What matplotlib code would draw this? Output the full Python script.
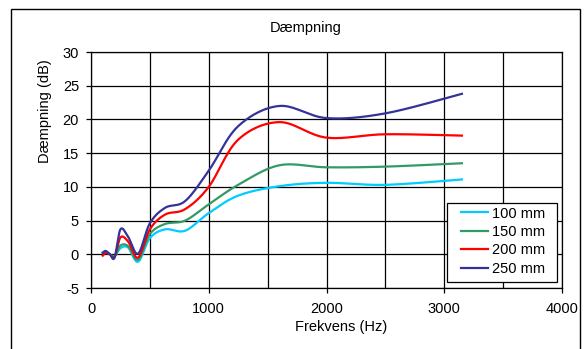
import numpy as np
import matplotlib
matplotlib.use("Agg")
import matplotlib.pyplot as plt
from matplotlib.patches import Rectangle
from matplotlib.ticker import FuncFormatter

plt.rcParams['font.family'] = ['Liberation Sans', 'DejaVu Sans']

freqs = [100, 125, 160, 200, 250, 315, 400, 500, 630, 800, 1000, 1250, 1600, 2000, 2500, 3150]
d100 = [0.3, 0.4, 0.0, -0.3, 0.9, 1.0, -1.1, 2.4, 3.7, 3.5, 6.1, 8.7, 10.1, 10.6, 10.3, 11.1]
d150 = [0.2, 0.4, 0.0, -0.3, 1.3, 1.2, -0.8, 3.0, 4.5, 5.0, 7.4, 10.3, 13.2, 12.9, 13.0, 13.5]
d200 = [-0.2, 0.2, 0.0, -0.4, 2.5, 1.9, -0.5, 3.7, 5.9, 6.7, 10.0, 17.0, 19.6, 17.3, 17.8, 17.6]
d250 = [0.2, 0.5, 0.0, -0.5, 3.7, 2.6, 0.1, 4.6, 6.9, 7.9, 12.4, 19.0, 22.0, 20.2, 20.9, 23.8]
labels = ['100 mm', '150 mm', '200 mm', '250 mm']
colors = ['#00CCFF', '#339966', '#FF0000', '#333399']

xlim = (0, 4000)
ylim = (-5, 30)
FS = 10.5


def smooth(x, y, sx, sy, n=30):
    # Excel-like smoothed line: Catmull-Rom Bezier in screen space
    P = np.column_stack([np.asarray(x, float) * sx, np.asarray(y, float) * sy])
    P = np.vstack([P[0], P, P[-1]])
    out = []
    t = np.linspace(0, 1, n)[:, None]
    for i in range(1, len(P) - 2):
        p0, p1, p2, p3 = P[i - 1], P[i], P[i + 1], P[i + 2]
        c1 = p1 + (p2 - p0) / 6.0
        c2 = p2 - (p3 - p1) / 6.0
        seg = ((1 - t) ** 3) * p1 + 3 * ((1 - t) ** 2) * t * c1 + 3 * (1 - t) * t ** 2 * c2 + t ** 3 * p2
        out.append(seg if i == 1 else seg[1:])
    out = np.vstack(out)
    return out[:, 0] / sx, out[:, 1] / sy


W, H = 588, 349
fig = plt.figure(figsize=(W / 100, H / 100), dpi=100)
ax = fig.add_axes([91 / W, 1 - 288 / H, 471 / W, 236 / H])
ax.set_xlim(*xlim)
ax.set_ylim(*ylim)

sx = 471 / (xlim[1] - xlim[0])
sy = 236 / (ylim[1] - ylim[0])
for data, lab, col in zip([d100, d150, d200, d250], labels, colors):
    xs, ys = smooth(freqs, data, sx, sy)
    ax.plot(xs, ys, color=col, lw=1.6, label=lab, zorder=3)

ax.set_xticks(np.arange(0, 4001, 1000))
ax.set_xticks(np.arange(0, 4001, 500), minor=True)
ax.set_yticks(np.arange(-5, 31, 5))
fmt = FuncFormatter(lambda v, p: str(int(round(v))))
ax.xaxis.set_major_formatter(fmt)
ax.yaxis.set_major_formatter(fmt)
ax.grid(True, which='major', color='black', lw=0.9)
ax.grid(True, which='minor', axis='x', color='black', lw=0.9)
ax.tick_params(which='minor', length=0)
ax.tick_params(which='major', direction='out', length=3.6, width=0.9, labelsize=FS)
ax.tick_params(axis='x', pad=6.5)
ax.tick_params(axis='y', pad=5)
for s in ax.spines.values():
    s.set_linewidth(0.9)
    s.set_color('black')

fig.text(341 / W, 1 - 327 / H, 'Frekvens (Hz)', ha='center', va='center', fontsize=FS)
fig.text(45 / W, 1 - 111 / H, 'Dæmpning (dB)', ha='center', va='center',
         rotation=90, fontsize=FS)
fig.text(306 / W, 1 - 28 / H, 'Dæmpning', ha='center', va='center', fontsize=FS)

# legend box + legend content
ax.add_patch(Rectangle((447 / W, 1 - 282 / H), 110 / W, 79 / H, transform=fig.transFigure,
                       facecolor='white', edgecolor='black', lw=0.9, zorder=4, clip_on=False))
leg = ax.legend(loc='upper left', bbox_to_anchor=(461 / W, 1 - 206.5 / H),
                bbox_transform=fig.transFigure, fontsize=FS, frameon=False,
                borderaxespad=0, borderpad=0, handlelength=1.85,
                labelspacing=0.3, handletextpad=0.27)
leg.set_zorder(5)

fig.patches.append(Rectangle((11 / W, 1 - 352 / H), 569 / W, 343 / H,
                             transform=fig.transFigure, fill=False,
                             edgecolor='black', lw=1.0))

fig.savefig('out.png', dpi=100)
